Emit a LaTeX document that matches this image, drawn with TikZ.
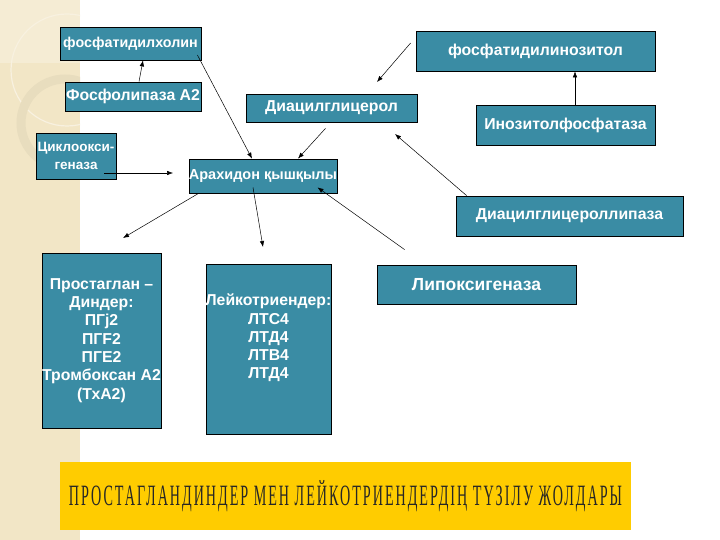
\documentclass[tikz,border=0pt]{standalone}
\usepackage{fontspec}
\setmainfont{Liberation Sans}
\newfontfamily\titlefont[LetterSpace=14]{Liberation Serif}
\usetikzlibrary{arrows.meta}

\definecolor{boxteal}{RGB}{58,140,164}
\definecolor{stripbeige}{RGB}{242,230,198}
\definecolor{bannergold}{RGB}{255,204,0}

\begin{document}
\begin{tikzpicture}[x=1pt, y=-1pt, >={Latex[length=6pt,width=4.5pt]},
    box/.style={draw=black, line width=0.8pt, fill=boxteal, text=white,
      font=\fontsize{#1}{18.3}\selectfont\bfseries, inner sep=0pt, align=center},
    box/.default=15.8,
    boxtext/.style={text=white, font=\fontsize{15.8}{18.3}\selectfont\bfseries,
      inner sep=0pt, align=center},
    arr/.style={->, line width=0.5pt}]

  % --- Hintergrund ---
  \useasboundingbox (0,0) rectangle (720,540);
  \fill[white] (0,0) rectangle (720,540);
  \fill[stripbeige] (0,0) rectangle (80,540);
  \begin{scope}
    \clip (0,0) rectangle (80,540);
    \fill[white!25!stripbeige] (0,0) rectangle (80,63);
    \draw[white!45!stripbeige, line width=1.2pt] (67,70) circle (56pt);
    \draw[black!4!stripbeige, line width=9pt] (65,123) circle (44pt);
  \end{scope}

  % --- Kaestchen oben ---
  \node[box=14.3, minimum width=141pt, minimum height=33pt] (fchol) at (130.5,43.5) {фосфатидилхолин};
  \node[box, minimum width=136pt, minimum height=29pt] (plaA) at (133,96.5) {Фосфолипаза А2};
  \node[box=13.5, minimum width=80pt, minimum height=46pt] (cox) at (76,156) {Циклоокси-\\геназа};
  \node[box=14.5, minimum width=136pt, minimum height=34pt] (arach) at (263,176) {Арахидон қышқылы};
  \node[box, minimum width=171pt, minimum height=28pt] (dag) at (331.5,108) {Диацилглицерол};
  \node[box, minimum width=239pt, minimum height=40pt] (finos) at (535.5,51) {фосфатидилинозитол};
  \node[box, minimum width=179pt, minimum height=40pt] (inosf) at (565.5,125) {Инозитолфосфатаза};
  \node[box, minimum width=227pt, minimum height=40pt] (daglip) at (569.5,216) {Диацилглицероллипаза};
  \node[box=17.5, minimum width=199pt, minimum height=39pt] (lipox) at (476.5,284.5) {Липоксигеназа};

  % --- Produkte ---
  \node[box, minimum width=119pt, minimum height=175pt] (pg) at (101.5,340.5)
    {Простаглан –\\Диндер:\\ПГj2\\ПГF2\\ПГЕ2\\Тромбоксан А2\\(ТхА2)};
  \node[box, minimum width=125pt, minimum height=170pt] (lt) at (268.5,349) {};
  \node[boxtext] (lttext) at (268.5,338) {Лейкотриендер:\\ЛТС4\\ЛТД4\\ЛТВ4\\ЛТД4};

  % --- freie Pfeilenden ---
  \coordinate (dagtop) at (377,82);
  \coordinate (dagbot) at (395,134);
  \coordinate (coxend) at (173,173);
  \coordinate (pgtop) at (123,238);
  \coordinate (lttop) at (263,247);

  % --- Pfeile ---
  \draw[arr] ([xshift=6pt]plaA.north) -- ([xshift=12.5pt]fchol.south);
  \draw[arr] ([xshift=-4pt,yshift=-11.5pt]fchol.east) -- ([xshift=-11pt]arach.north);
  \draw[arr] ([xshift=-6pt,yshift=-6pt]dag.south) -- ([xshift=35pt]arach.north);
  \draw[arr] ([xshift=-5pt,yshift=8pt]finos.west) -- (dagtop);
  \draw[arr] ([xshift=9.5pt]inosf.north) -- ([xshift=9.5pt]inosf.north |- finos.south);
  \draw[arr] ([xshift=11pt]daglip.north west) -- (dagbot);
  \draw[arr] ([xshift=28pt,yshift=-17pt]cox.center) -- (coxend);
  \draw[arr] ([xshift=10pt]arach.south west) -- (pgtop);
  \draw[arr] ([xshift=-10pt,yshift=6pt]arach.south) -- (lttop);
  \draw[arr] ([xshift=28pt,yshift=15pt]lipox.north west) -- ([xshift=-20pt,yshift=6pt]arach.south east);

  % --- Titel ---
  \node[fill=bannergold, minimum width=571pt, minimum height=68pt, inner sep=0pt] (banner) at (345.5,496)
    {\resizebox{553pt}{25pt}{\titlefont\color{black!85} ПРОСТАГЛАНДИНДЕР МЕН ЛЕЙКОТРИЕНДЕРДІҢ ТҮЗІЛУ ЖОЛДАРЫ}};

\end{tikzpicture}
\end{document}
